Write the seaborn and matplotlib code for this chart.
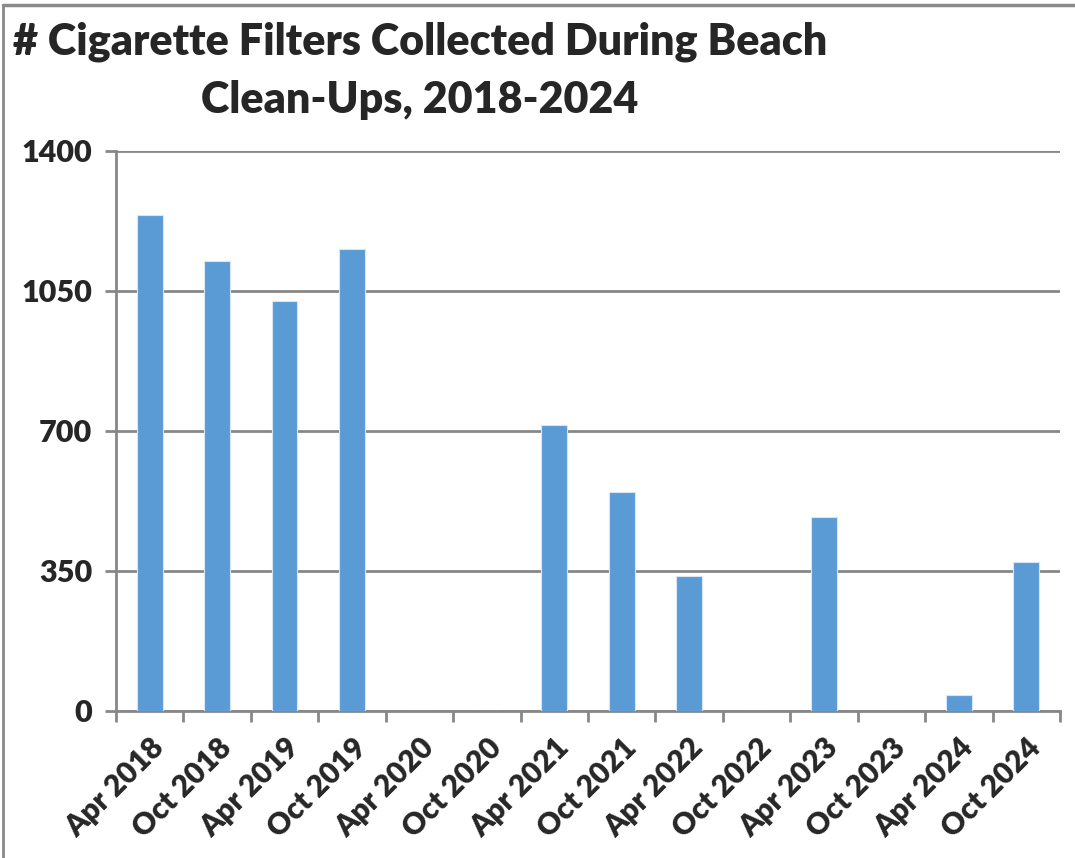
import matplotlib
matplotlib.use("Agg")
import matplotlib.pyplot as plt
import seaborn as sns
import pandas as pd
from matplotlib.lines import Line2D

categories = ["Apr 2018", "Oct 2018", "Apr 2019", "Oct 2019", "Apr 2020", "Oct 2020",
              "Apr 2021", "Oct 2021", "Apr 2022", "Oct 2022", "Apr 2023", "Oct 2023",
              "Apr 2024", "Oct 2024"]
filters = [1240, 1125, 1025, 1155, 0, 0, 715, 548, 337, 0, 485, 0, 40, 372]
yticks = [0, 350, 700, 1050, 1400]
title_lines = ["# Cigarette Filters Collected During Beach", "Clean-Ups, 2018-2024"]

sns.set_theme(style="white")
plt.rcParams['font.family'] = ['Lato', 'DejaVu Sans']

df = pd.DataFrame({"cat": categories, "val": filters})

fig = plt.figure(figsize=(10.75, 8.58), dpi=100)
ax = fig.add_axes([116/1075, 1 - 711/858, (1060-116)/1075, (711-151)/858])

sns.barplot(data=df, x="cat", y="val", ax=ax, color="#5B9BD5", saturation=1,
            width=0.38, edgecolor="#d6e6f5", linewidth=0.8, zorder=3)

W = "heavy"
ax.set_ylim(0, 1400)
ax.set_xlim(-0.5, len(categories) - 0.5)
ax.set_yticks(yticks)
ax.set_yticklabels([str(t) for t in yticks], fontsize=22, fontweight=W)
ax.yaxis.grid(True, color="#878787", linewidth=2, zorder=0)
ax.set_axisbelow(True)
ax.set_xlabel("")
ax.set_ylabel("")

ax.set_xticks(range(len(categories)))
ax.set_xticklabels(categories, rotation=45, ha="right", rotation_mode="anchor",
                   fontsize=21.5, fontweight=W)
ax.set_xticks([i - 0.5 for i in range(len(categories) + 1)], minor=True)
ax.tick_params(axis="x", which="major", length=0, pad=16)
ax.tick_params(axis="x", which="minor", length=8, width=2, color="#878787", bottom=True)
ax.tick_params(axis="y", length=8, width=2, color="#878787", left=True, pad=9)

for s in ["top", "right"]:
    ax.spines[s].set_visible(False)
for s in ["left", "bottom"]:
    ax.spines[s].set_color("#878787")
    ax.spines[s].set_linewidth(2)

fig.text(420/1075, 1 - 42/858, title_lines[0], ha="center", va="center",
         fontsize=31, fontweight=W)
fig.text(420/1075, 1 - 100/858, title_lines[1], ha="center", va="center",
         fontsize=31, fontweight=W)

fig.add_artist(Line2D([3/1075, 3/1075], [0, 1 - 5/858], color="#8a8a8a", linewidth=2,
                      transform=fig.transFigure))
fig.add_artist(Line2D([3/1075, 1], [1 - 5/858, 1 - 5/858], color="#8a8a8a", linewidth=2.5,
                      transform=fig.transFigure))

fig.savefig("out.png", dpi=100)
